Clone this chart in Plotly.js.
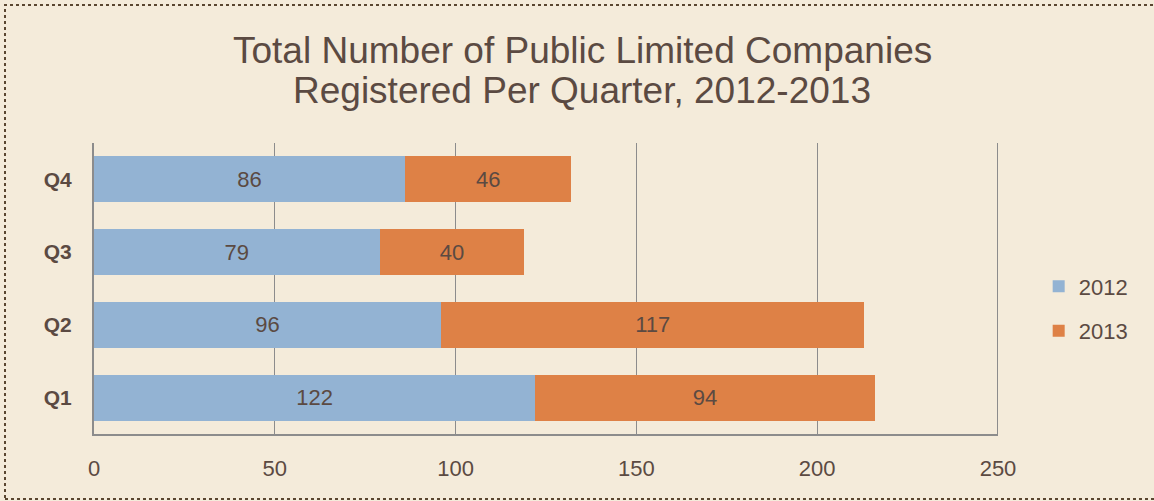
<!DOCTYPE html>
<html>
<head>
<meta charset="utf-8">
<script src="https://cdn.plot.ly/plotly-3.0.1.min.js"></script>
<style>
html,body{margin:0;padding:0;background:#F4EBDA;}
#chart{width:1154px;height:501px;}
</style>
</head>
<body>
<div id="chart"></div>
<script>
const quarters = ['Q1', 'Q2', 'Q3', 'Q4'];
const values2012 = [122, 96, 79, 86];
const values2013 = [94, 117, 40, 46];
const seriesNames = ['2012', '2013'];
const xTicks = [0, 50, 100, 150, 200, 250];
const titleLines = ['Total Number of Public Limited Companies', 'Registered Per Quarter, 2012-2013'];

const textColor = '#5B4A42';
const font = 'Liberation Sans, Arial, sans-serif';
const xMax = xTicks[xTicks.length - 1];

const traces = [
  {
    type: 'bar', orientation: 'h', name: seriesNames[0],
    y: quarters, x: values2012,
    marker: {color: '#93B3D3'},
    text: values2012.map(String), textposition: 'inside', insidetextanchor: 'middle',
    textfont: {color: textColor, size: 22, family: font},
    legendgroup: 'a', width: 0.63, hoverinfo: 'x+name'
  },
  {
    type: 'bar', orientation: 'h', name: seriesNames[1],
    y: quarters, x: values2013,
    marker: {color: '#DE8146'},
    text: values2013.map(String), textposition: 'inside', insidetextanchor: 'middle',
    textfont: {color: textColor, size: 22, family: font},
    legendgroup: 'b', width: 0.63, hoverinfo: 'x+name'
  }
];

const layout = {
  width: 1154, height: 501,
  paper_bgcolor: '#F4EBDA', plot_bgcolor: '#F4EBDA',
  margin: {l: 94, r: 156, t: 143, b: 67},
  barmode: 'stack',
  font: {family: font, color: textColor},
  xaxis: {
    range: [0, xMax], tickvals: xTicks, ticktext: xTicks.map(String),
    showgrid: true, gridcolor: '#8C8C8C', gridwidth: 1,
    zeroline: false, showline: true, linecolor: '#8C8C8C', linewidth: 2,
    mirror: false, ticks: '', ticklen: 0, ticklabelstandoff: 14,
    tickfont: {size: 22, color: textColor, family: font},
    fixedrange: true
  },
  yaxis: {
    categoryorder: 'array', categoryarray: quarters,
    showline: true, linecolor: '#8C8C8C', linewidth: 2,
    showgrid: false, zeroline: false,
    ticks: '', ticklen: 0, ticklabelstandoff: 16,
    tickfont: {size: 21, color: textColor, family: font, weight: 'bold'},
    fixedrange: true
  },
  legend: {
    x: 1.045, xanchor: 'left', y: 0.43, yanchor: 'middle',
    traceorder: 'grouped', tracegroupgap: 13,
    font: {size: 22, color: textColor, family: font},
    bgcolor: 'rgba(0,0,0,0)', itemwidth: 30
  },
  annotations: [
    {
      text: titleLines[0], xref: 'paper', yref: 'paper',
      x: (582 - 94) / 904, y: (434 - 50) / 291, xanchor: 'center', yanchor: 'middle',
      showarrow: false, font: {size: 37, color: textColor, family: font}
    },
    {
      text: titleLines[1], xref: 'paper', yref: 'paper',
      x: (582 - 94) / 904, y: (434 - 90) / 291, xanchor: 'center', yanchor: 'middle',
      showarrow: false, font: {size: 37, color: textColor, family: font}
    }
  ],
  shapes: [
    {
      type: 'rect', xref: 'paper', yref: 'paper',
      x0: (5 - 94) / 904, x1: (1160 - 94) / 904,
      y0: (434 - 499) / 291, y1: (434 - 5) / 291,
      line: {color: '#5A4630', width: 2, dash: 'dot'},
      fillcolor: 'rgba(0,0,0,0)', layer: 'below'
    },
    {
      type: 'line', xref: 'x', yref: 'paper',
      x0: xMax, x1: xMax, y0: 0, y1: 1,
      line: {color: '#8C8C8C', width: 2}, layer: 'below'
    }
  ],
  showlegend: true
};

Plotly.newPlot('chart', traces, layout, {displayModeBar: false, staticPlot: true});
</script>
</body>
</html>
